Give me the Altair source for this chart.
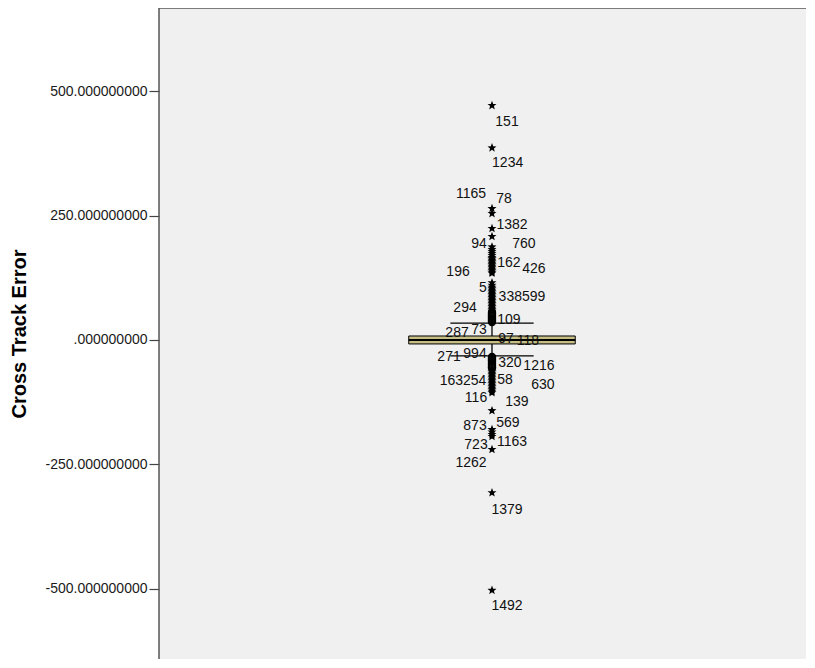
import altair as alt
import pandas as pd

# Box statistics (Cross Track Error)
q1, median, q3 = -8, 0, 8
whisker_low, whisker_high = -32, 34

# Outliers (circles) and extreme values (stars)
circle_vals = [36, 38, 40, 42, 44, 46, 48, 50, 52, 54, 56,
               -34, -36, -38, -40, -42, -44, -46, -48, -50, -52, -54, -56]
star_vals = [471, 386, 264, 254, 224, 208, 187, 182, 178, 174, 170, 166, 163,
             160, 157, 154, 151, 148, 145, 142, 139, 136, 134, 115, 110, 106,
             103, 100, 97, 94, 91, 88, 85, 82, 79, 76, 73, 70, 67, 64, 61, 58,
             -58, -61, -64, -67, -70, -73, -76, -79, -82, -85, -88, -91, -94,
             -97, -100, -103, -106, -142, -180, -185, -190, -194, -220, -307, -503]

# Case-number labels: text, value, horizontal place
label_text = ["151", "1234", "1165", "78", "1382", "94", "760", "162", "426",
              "196", "5", "338599", "294", "109", "287", "73", "97", "118",
              "271", "994", "320", "1216", "163254", "58", "630", "116", "139",
              "873", "569", "723", "1163", "1262", "1379", "1492"]
label_y = [437, 355, 293, 283, 232, 192, 192, 154, 142,
           136, 104, 86, 64, 40, 14, 20, 2, -2,
           -34, -28, -46, -52, -82, -80, -90, -116, -124,
           -172, -166, -212, -206, -248, -341, -535]
label_x = [0.045, 0.047, -0.063, 0.036, 0.06, -0.039, 0.096, 0.051, 0.126,
           -0.102, -0.027, 0.09, -0.081, 0.051, -0.105, -0.039, 0.042, 0.108,
           -0.129, -0.051, 0.054, 0.141, -0.087, 0.039, 0.153, -0.048, 0.075,
           -0.051, 0.048, -0.048, 0.06, -0.063, 0.045, 0.045]

box_half, cap_half = 0.25, 0.125

W, H = 647, 651
xs = alt.Scale(domain=[-1, 0.943], nice=False, zero=False)
ys = alt.Scale(domain=[-641, 667], nice=False, zero=False)

yaxis = alt.Axis(
    title="Cross Track Error", values=[-500, -250, 0, 250, 500],
    labelExpr="datum.value == 0 ? '.000000000' : (datum.value < 0 ? '-' : '') + format(abs(datum.value), '.9f')",
    labelFont="Liberation Sans", labelFontSize=14, labelColor="#1a1a1a",
    tickSize=10, tickColor="#444", tickWidth=1.2, domain=False, grid=False,
    labelPadding=2, titleFont="Liberation Sans", titleFontSize=20,
    titleFontWeight="bold", titleColor="#000", titlePadding=16,
)

box_df = pd.DataFrame({"x": [-box_half], "x2": [box_half], "q1": [q1], "q3": [q3], "med": [median]})
box = alt.Chart(box_df).mark_rect(fill="#C5BE85", stroke="#000", strokeWidth=1).encode(
    x=alt.X("x:Q", scale=xs, axis=None), x2="x2:Q",
    y=alt.Y("q1:Q", scale=ys, axis=yaxis), y2="q3:Q")
med = alt.Chart(box_df).mark_rule(color="#000", strokeWidth=2).encode(
    x=alt.X("x:Q", scale=xs), x2="x2:Q", y=alt.Y("med:Q", scale=ys))

stem_df = pd.DataFrame({"x": [0, 0], "a": [q3, q1], "b": [whisker_high, whisker_low]})
stems = alt.Chart(stem_df).mark_rule(color="#000", strokeWidth=1.3).encode(
    x=alt.X("x:Q", scale=xs), y=alt.Y("a:Q", scale=ys), y2="b:Q")

cap_df = pd.DataFrame({"x": [-cap_half, -cap_half], "x2": [cap_half, cap_half],
                       "y": [whisker_high, whisker_low]})
caps = alt.Chart(cap_df).mark_rule(color="#000", strokeWidth=1.3).encode(
    x=alt.X("x:Q", scale=xs), x2="x2:Q", y=alt.Y("y:Q", scale=ys))

circ_df = pd.DataFrame({"x": [0] * len(circle_vals), "v": circle_vals})
circles = alt.Chart(circ_df).mark_point(shape="circle", filled=False, color="#000",
                                        size=50, strokeWidth=1.3, opacity=1).encode(
    x=alt.X("x:Q", scale=xs), y=alt.Y("v:Q", scale=ys))

star_path = "M0,-1L0.25,-0.33L0.95,-0.31L0.4,0.12L0.59,0.81L0,0.42L-0.59,0.81L-0.4,0.12L-0.95,-0.31L-0.25,-0.33Z"
star_df = pd.DataFrame({"x": [0] * len(star_vals), "v": star_vals})
stars = alt.Chart(star_df).mark_point(shape=star_path, filled=True, color="#000",
                                      size=90, opacity=1).encode(
    x=alt.X("x:Q", scale=xs), y=alt.Y("v:Q", scale=ys))

lab_df = pd.DataFrame({"t": label_text, "x": label_x, "v": label_y})
labels = alt.Chart(lab_df).mark_text(font="Liberation Sans", fontSize=14, color="#111",
                                     align="center", baseline="middle").encode(
    x=alt.X("x:Q", scale=xs), y=alt.Y("v:Q", scale=ys), text="t:N")

# frame: left and top edges of the plot area (right and bottom lie outside the window)
left_edge = alt.Chart(box_df).mark_rule(color="#555", strokeWidth=1.5).encode(
    x=alt.value(0), y=alt.value(0), y2=alt.value(H))
top_edge = alt.Chart(box_df).mark_rule(color="#555", strokeWidth=1.5).encode(
    x=alt.value(0), x2=alt.value(W), y=alt.value(0))

chart = alt.layer(box, stems, caps, med, circles, stars, labels, left_edge, top_edge).properties(
    width=W, height=H,
    autosize=alt.AutoSizeParams(type="none"),
    padding={"left": 151, "top": 0, "right": 0, "bottom": 0},
).configure(background="white").configure_view(fill="#F0F0F0", stroke=None)

chart.save("out.html", embed_options={"renderer": "svg", "actions": False})
